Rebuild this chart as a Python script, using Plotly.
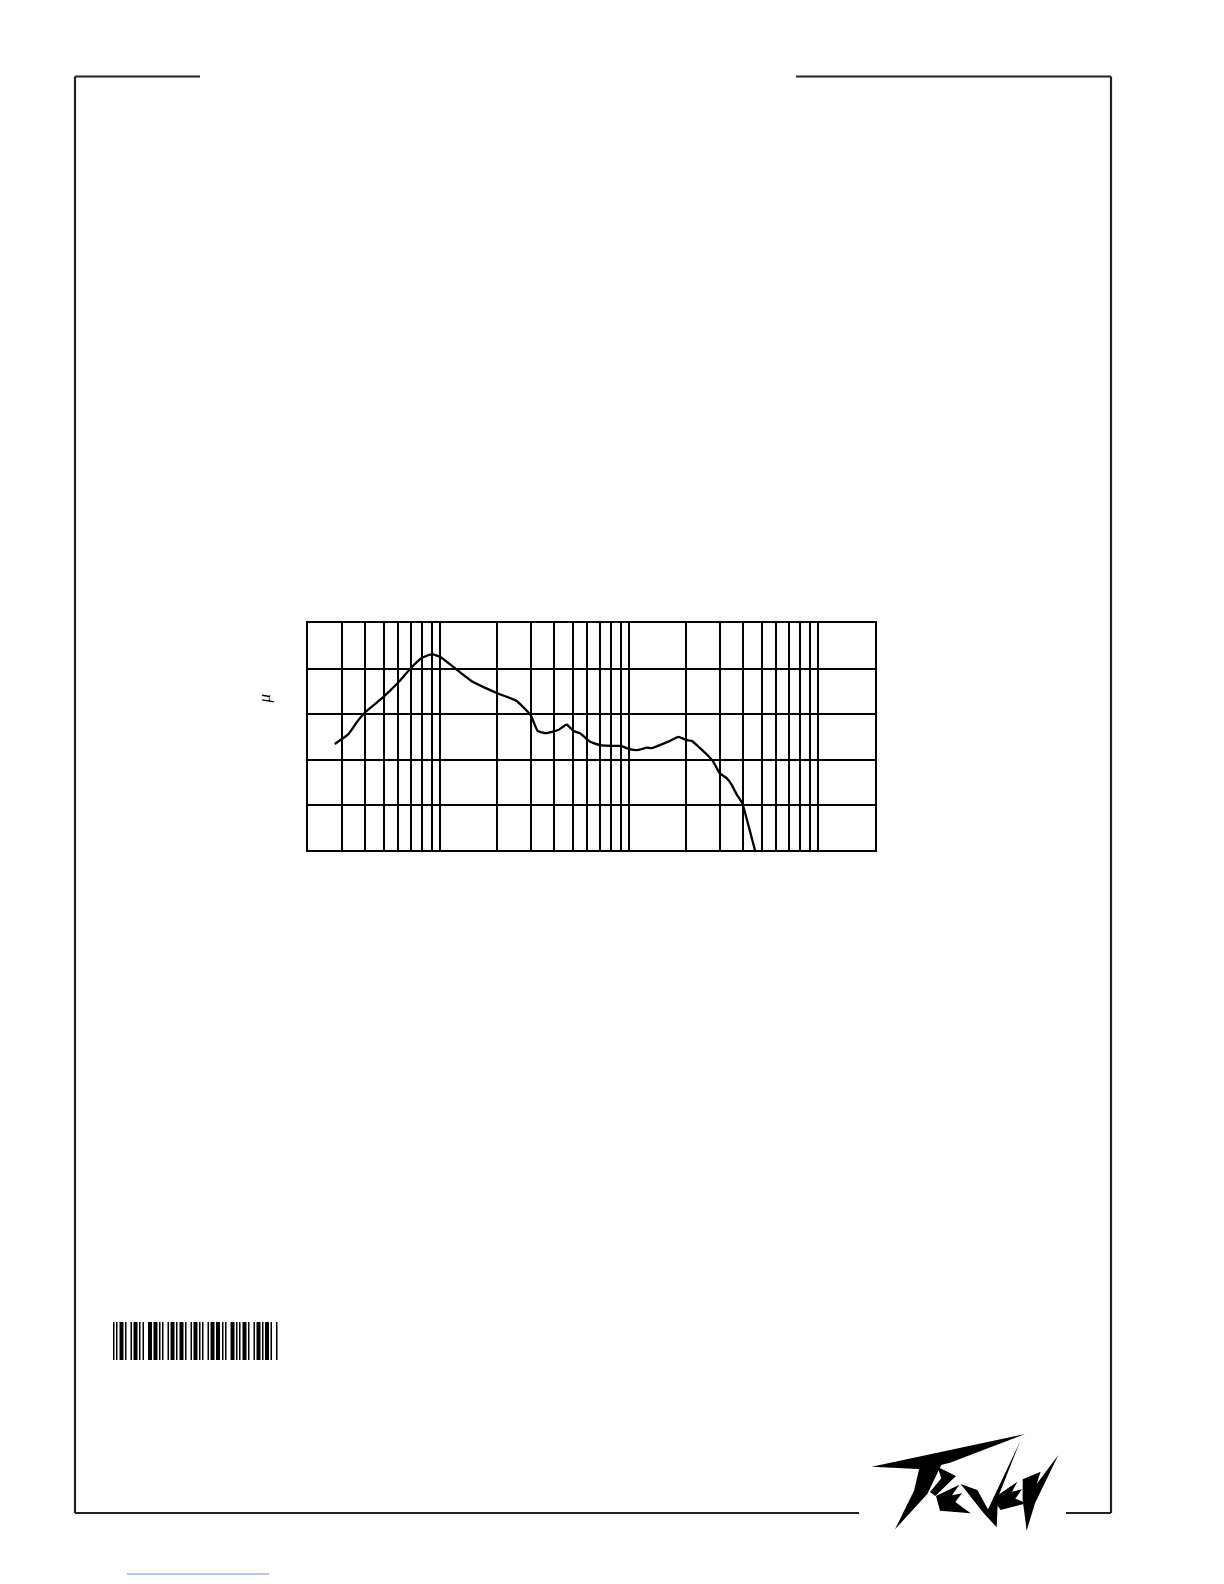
import plotly.graph_objects as go

# page is rendered with an 8px body margin, so the figure is 8px smaller and
# all page coordinates are shifted by that margin
OFF = 8
W, H = 1224 - OFF, 1584 - OFF

# ---- data: frequency response (Hz, dB) ----
freq_hz = [27.6, 32.6, 36.1, 40, 50, 60, 70, 80, 90, 100, 117, 146, 200, 253, 300,
           327, 361, 420, 466, 505, 548, 619, 714, 822, 900, 1000, 1114, 1234, 1312,
           1452, 1640, 1815, 2000, 2136, 2364, 2670, 2780, 3000, 3272, 3478, 3696,
           3950, 4256, 4618]
level_db = [73.4, 75.6, 78.2, 80.4, 83.8, 87.0, 90.2, 92.4, 93.2, 92.6, 90.4, 87.3,
            84.6, 82.9, 79.8, 76.3, 75.8, 76.5, 77.7, 76.3, 75.8, 73.9, 73.1, 73.0,
            73.0, 72.3, 72.1, 72.6, 72.5, 73.2, 74.1, 75.0, 74.3, 74.1, 72.5, 70.4,
            69.5, 67.0, 65.9, 64.4, 62.3, 60.4, 55.6, 50.0]

grid_freqs = [20, 30, 40, 50, 60, 70, 80, 90, 100,
              200, 300, 400, 500, 600, 700, 800, 900, 1000,
              2000, 3000, 4000, 5000, 6000, 7000, 8000, 9000, 10000, 20000]
grid_db = [50, 60, 70, 80, 90, 100]

# barcode bar/gap widths (px), read approximately
barcode_bars = [1.5, 1.5, 4, 1.5, 1.5, 4, 1.5, 1.5, 4, 4, 1.5, 1.5, 1.5, 4, 1.5, 4,
                1.5, 1.5, 4, 1.5, 1.5, 1.5, 4, 4, 1.5, 1.5, 4, 1.5, 1.5, 4, 1.5, 1.5,
                4, 1.5, 4, 1.5, 1.5, 1.5, 4, 1.5, 4, 1.5, 1.5, 4, 1.5, 1.5, 1.5, 4,
                4, 1.5, 1.5, 1.5, 4, 1.5, 4, 1.5, 1.5, 4, 1.5, 1.5]
barcode_gaps = [1.5, 2, 1.5, 4, 1.5, 1.5, 2, 4, 1.5, 1.5, 1.5, 4, 1.5, 1.5, 2, 1.5,
                4, 1.5, 1.5, 1.5, 4, 1.5, 1.5, 2, 1.5, 4, 1.5, 1.5, 2, 1.5, 4, 1.5,
                1.5, 1.5, 1.5, 4, 1.5, 2, 1.5, 4, 1.5, 1.5, 1.5, 2, 4, 1.5, 1.5, 1.5,
                1.5, 4, 1.5, 2, 1.5, 1.5, 4, 1.5, 1.5, 1.5, 4, 1.5]


def px(x):
    return (x - OFF) / W


def py(y):
    return 1 - (y - OFF) / H


fig = go.Figure()
fig.add_trace(go.Scatter(x=freq_hz, y=level_db, mode="lines",
                         line=dict(color="black", width=2.3, shape="spline", smoothing=0.4),
                         hoverinfo="skip", showlegend=False))

x0, x1, y0, y1 = 308.3, 875.3, 623.3, 850.3
fig.update_layout(
    width=W, height=H, margin=dict(l=0, r=0, t=0, b=0),
    paper_bgcolor="white", plot_bgcolor="white",
    xaxis=dict(type="log", range=[1.30103, 4.30103], domain=[px(x0), px(x1)],
               tickvals=grid_freqs, showticklabels=False, ticks="",
               showgrid=True, gridcolor="black", gridwidth=1.6,
               showline=True, linecolor="black", linewidth=1.8, mirror=True,
               zeroline=False, fixedrange=True),
    yaxis=dict(range=[50, 100], domain=[py(y1), py(y0)],
               tickvals=grid_db, showticklabels=False, ticks="",
               showgrid=True, gridcolor="black", gridwidth=1.6,
               showline=True, linecolor="black", linewidth=1.8, mirror=True,
               zeroline=False, fixedrange=True),
)

shapes = []
frame = dict(color="#222222", width=2.2)
# page frame
for (ax, ay, bx, by) in [(75, 76.5, 200, 76.5), (796, 76.5, 1111, 76.5),
                         (75, 76.5, 75, 1513), (1111, 76.5, 1111, 1513),
                         (75, 1513, 859, 1513), (1066, 1513, 1111, 1513)]:
    shapes.append(dict(type="line", xref="paper", yref="paper",
                       x0=px(ax), y0=py(ay), x1=px(bx), y1=py(by), line=frame))

# barcode
bx = 113.0
for w, g in zip(barcode_bars, barcode_gaps):
    if bx + w > 279:
        break
    shapes.append(dict(type="rect", xref="paper", yref="paper",
                       x0=px(bx), x1=px(bx + w), y0=py(1360), y1=py(1322),
                       fillcolor="black", line=dict(width=0)))
    bx += w + g

# link underline
shapes.append(dict(type="line", xref="paper", yref="paper",
                   x0=px(127), x1=px(269), y0=py(1574), y1=py(1574),
                   line=dict(color="#6f8fe0", width=1)))

# logo (approximate jagged wordmark), coords in local logo units
logo_polys = [
    [(95, 170), (555, 72), (330, 158), (250, 178)],
    [(238, 175), (305, 163), (262, 252), (165, 358), (222, 242)],
    [(292, 170), (348, 198), (286, 258), (270, 246), (304, 205)],
    [(288, 258), (358, 224), (336, 256), (366, 250), (346, 276), (392, 310), (300, 302)],
    [(362, 222), (412, 240), (444, 298), (540, 95), (474, 262), (470, 352), (430, 308)],
    [(458, 266), (532, 215), (516, 245), (546, 238), (526, 266), (560, 280), (482, 300)],
    [(548, 208), (602, 185), (590, 222), (655, 135), (585, 280), (560, 362), (548, 270)],
]
for poly in logo_polys:
    pts = [(840 + a / 3, 1410 + b / 3) for a, b in poly]
    path = "M " + " L ".join(f"{px(a):.5f},{py(b):.5f}" for a, b in pts) + " Z"
    shapes.append(dict(type="path", xref="paper", yref="paper", path=path,
                       fillcolor="black", line=dict(width=0)))
fig.update_layout(shapes=shapes)

fig.add_annotation(xref="paper", yref="paper", x=px(252), y=py(699),
                   text="<i>μ</i>", showarrow=False, textangle=-90,
                   font=dict(family="Liberation Serif", size=17, color="black"))
fig.add_annotation(xref="paper", yref="paper", x=px(1002), y=py(1510),
                   text="®", showarrow=False,
                   font=dict(family="Liberation Sans", size=9, color="black"))

fig.write_html("out.html")
